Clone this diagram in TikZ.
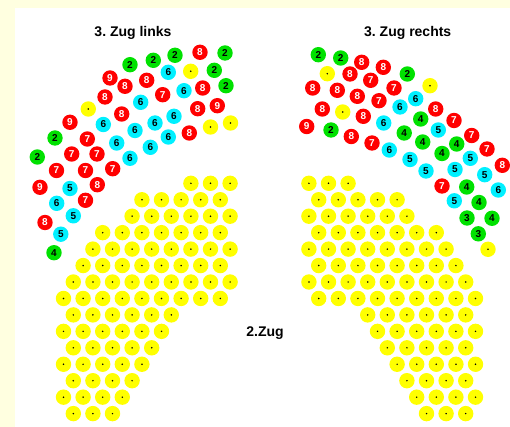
\documentclass[tikz,border=0pt]{standalone}
\usepackage{fontspec}
\setmainfont{Liberation Sans}
\frenchspacing
\definecolor{bgyel}{RGB}{255,255,224}
\definecolor{seatgreen}{RGB}{0,225,0}
\definecolor{seatcyan}{RGB}{0,240,255}
\definecolor{seatyel}{RGB}{255,255,0}
\definecolor{seatred}{RGB}{255,0,0}
\tikzset{
  seatbase/.style={circle, minimum size=15.4pt, inner sep=0pt, draw=none,
    font=\bfseries\fontsize{10}{10}\selectfont},
  seatr/.style={seatbase, fill=seatred, text=white},
  seatg/.style={seatbase, fill=seatgreen, text=black},
  seatc/.style={seatbase, fill=seatcyan, text=black},
  seaty/.style={seatbase, fill=seatyel,
    path picture={\fill[black] (path picture bounding box.center) circle (0.85pt);}},
  titlelbl/.style={font=\bfseries\fontsize{14}{14}\selectfont, anchor=base, inner sep=0pt}
}
\begin{document}
\begin{tikzpicture}[x=1pt,y=-1pt]
\useasboundingbox (0,0) rectangle (510,427);
\fill[bgyel] (0,0) rectangle (510,427);
\fill[white] (15,8) rectangle (510,427);

% titles
\node[titlelbl] (tl) at (133,36.7) {3. Zug links};
\node[titlelbl] (tr) at (407.7,36.7) {3. Zug rechts};
\node[titlelbl] (tm) at (265,336.5) {2.Zug};

% 2. Zug yellow blocks (hex grid), left and mirrored right
\foreach \r/\a/\b in {1/13/17,2/8/16,3/7/17,4/4/16,5/3/17,6/2/16,7/1/17,8/0/16,
                      9/1/11,10/0/10,11/1/9,12/0/8,13/1/7,14/0/6,15/1/5}{
  \pgfmathtruncatemacro\an{\a+2}
  \foreach \j in {\a,\an,...,\b}{
    \pgfmathsetmacro\xx{63.5+9.8*\j}
    \pgfmathsetmacro\yy{183.3+16.45*(\r-1)}
    \pgfmathsetmacro\xm{539-\xx}
    \node[seaty] (yl-\r-\j) at (\xx,\yy) {};
    \node[seaty] (yr-\r-\j) at (\xm,\yy) {};
  }
}

% 3. Zug links
\foreach \x/\y/\c/\n [count=\i] in {
 130/64.7/g/2, 153.3/60.3/g/2, 175/55.3/g/2, 200/52.3/r/8, 225/53/g/2,
 110/78/r/9, 125/86.3/r/8, 146.7/80.3/r/8, 168.3/72.3/c/6, 214.3/70.3/g/2,
 105/97/r/8, 162.7/94.7/r/7, 184/90.7/c/6, 202.7/88/r/8, 226/85.7/g/2,
 140.7/102.3/c/6, 121.7/114/r/8, 197.7/108.7/r/8, 217.3/105.7/r/9,
 70/122.3/r/9, 103.3/124.5/c/6, 155/123/c/6, 174/116.3/c/6, 135/130.5/c/6, 168.3/137/c/6, 189.3/133/r/8,
 55/138/g/2, 87.3/139/r/7, 116.7/143/c/6, 150.3/147.3/c/6,
 37.3/157/g/2, 71.7/154/r/7, 97/154/r/7, 130/158.3/c/6,
 56.5/170.5/r/7, 85.5/170.5/r/7, 112.7/168.7/r/7,
 40/187.3/r/9, 70/188.5/c/5, 97.3/184.7/r/8,
 56.7/203.3/c/6, 85.5/200.3/r/7, 73.3/215.8/c/5, 45/222.5/r/8, 60.8/234.2/c/5, 54/252.7/g/4}{
  \node[seat\c] (l\i) at (\x,\y) {\n};
}
\foreach \x/\y [count=\i] in {190.7/71.3, 88.3/109, 210.5/127, 230.5/123}{
  \node[seaty] (ly\i) at (\x,\y) {};
}

% 3. Zug rechts
\foreach \x/\y/\c/\n [count=\i] in {
 318.3/54.7/g/2, 340.7/58/g/2, 361.7/62.3/r/8, 383.3/67.3/r/8, 350/74/r/8, 370.7/80.3/r/7, 407.3/74/g/2,
 312.7/88/r/8, 337.3/90.3/r/8, 357.3/96.3/r/8, 394/88/r/7, 379/100.7/r/7, 400/107/c/6, 415.7/98.7/c/6,
 322.3/109/r/8, 363.3/116.3/r/8, 435.7/109/r/8, 420.7/119/g/4,
 306.7/126.5/r/9, 331/130/g/2, 383.7/123/c/6, 454/120.5/r/7,
 351.3/136.5/r/8, 404.2/133/g/4, 438.3/130/c/5, 471.7/135.5/r/7,
 372/143/r/7, 422.7/142/g/4, 456.7/144/g/4, 487/149/r/7,
 389.3/150/c/6, 442/153.5/g/4, 410/159.5/c/5, 470.3/158.3/c/5, 502.3/165.3/r/8,
 426/171/c/5, 455/169.5/c/5, 484.7/174.7/c/5,
 442/186/r/7, 466.7/187/g/4, 498.3/190/c/6,
 454.3/200.8/c/5, 479/202.5/g/4, 467/218/g/3, 492/218.3/g/4, 478.3/233.8/g/3}{
  \node[seat\c] (r\i) at (\x,\y) {\n};
}
\foreach \x/\y [count=\i] in {327.3/73.7, 430/85.7, 342.7/112, 488/249.3}{
  \node[seaty] (ry\i) at (\x,\y) {};
}
\end{tikzpicture}
\end{document}
